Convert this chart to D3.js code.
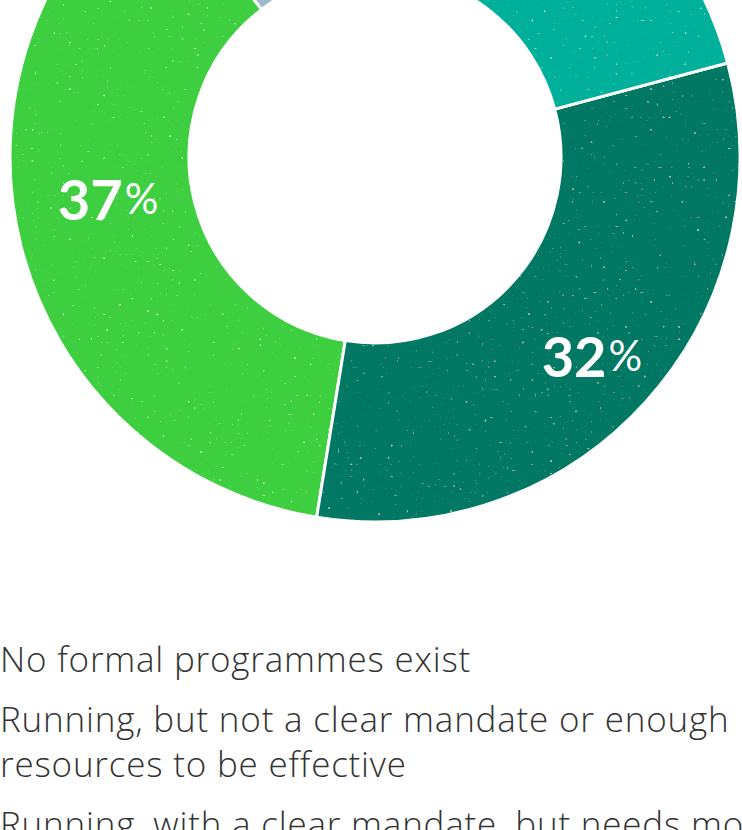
<!DOCTYPE html>
<html>
<head>
<meta charset="utf-8">
<script src="https://cdn.jsdelivr.net/npm/d3@7"></script>
<style>
  html, body { margin: 0; padding: 0; background: #ffffff; overflow: hidden; }
  svg { display: block; }
</style>
</head>
<body>
<div id="chart"></div>
<script>
// ---- data (legend order) ----
const categories = [
  "No formal programmes exist",
  "Running, but not a clear mandate or enough resources to be effective",
  "Running, with a clear mandate, but needs more resources",
  "Running, with a clear mandate and enough resources"
];
const values = [10, 37, 31.7, 21.3];
const colors = ["#9dbccb", "#3ecf3f", "#007864", "#00b09b"];
const labelled = [false, true, true, false];

// ---- layout ----
const W = 742, H = 830;
const cx = 375, cy = 157;
const rOuter = 365, rInner = 186;
const deg = Math.PI / 180;

const svg = d3.select("#chart").append("svg")
  .attr("width", W).attr("height", H);

// sparse speckle texture filter
const defs = svg.append("defs");
const f = defs.append("filter").attr("id", "speckle")
  .attr("x", 0).attr("y", 0).attr("width", 1).attr("height", 1);
f.append("feTurbulence").attr("type", "fractalNoise")
  .attr("baseFrequency", 0.32).attr("numOctaves", 1).attr("seed", 11).attr("result", "noise");
f.append("feColorMatrix").attr("in", "noise").attr("type", "matrix")
  .attr("values", "0 0 0 0 1  0 0 0 0 1  0 0 0 0 1  14 0 0 0 -10.1")
  .attr("result", "dots");
f.append("feComposite").attr("in", "dots").attr("in2", "SourceGraphic")
  .attr("operator", "in").attr("result", "dotsIn");
f.append("feComponentTransfer").attr("in", "dotsIn").attr("result", "dotsSoft")
  .append("feFuncA").attr("type", "linear").attr("slope", 0.35);
const fm = f.append("feMerge");
fm.append("feMergeNode").attr("in", "SourceGraphic");
fm.append("feMergeNode").attr("in", "dotsSoft");

const start = -1.6 * deg;
const pie = d3.pie().sort(null).value(d => d)
  .startAngle(start).endAngle(start - 2 * Math.PI);
const arcs = pie(values);

const arc = d3.arc().innerRadius(rInner).outerRadius(rOuter);

const g = svg.append("g").attr("transform", `translate(${cx},${cy})`);
g.append("g").attr("filter", "url(#speckle)")
  .selectAll("path").data(arcs).join("path")
  .attr("d", arc)
  .attr("fill", (d, i) => colors[i])
  .attr("stroke", "#ffffff")
  .attr("stroke-width", 3)
  .attr("stroke-linejoin", "miter");

// percentage labels
const labelTweak = { 1: { shift: 5.5, r: 270 }, 2: { shift: 0.3, r: 294 } };
const fmt = d3.format(".0f");
arcs.forEach((d, i) => {
  if (!labelled[i]) return;
  const mid = (d.startAngle + d.endAngle) / 2;
  const t = labelTweak[i] || { shift: 0, r: 285 };
  const a = mid + t.shift * deg;
  const x = t.r * Math.sin(a), y = -t.r * Math.cos(a);
  const txt = g.append("text")
    .attr("x", x).attr("y", y)
    .attr("text-anchor", "middle")
    .attr("dominant-baseline", "central")
    .attr("fill", "#ffffff")
    .style("font-family", "Lato, 'Open Sans', sans-serif")
    .style("font-weight", 700);
  txt.append("tspan").style("font-size", "56px").text(fmt(values[i]));
  txt.append("tspan").style("font-size", "42px").style("font-weight", 400).attr("dx", 2).text("%");
});

// legend (text only)
const legendX = 0;
const firstBaseline = 672;
const lineH = 45, itemGap = 15;
const wrapWidth = 800;
let yb = firstBaseline;
categories.forEach((c, i) => {
  const t = svg.append("text")
    .attr("x", legendX).attr("y", yb)
    .attr("fill", "#333333")
    .style("font-family", "'Open Sans', Roboto, sans-serif")
    .style("font-weight", 300)
    .style("font-size", "35px")
    .style("letter-spacing", "0.8px");
  const words = c.split(" ");
  let line = [];
  let tspan = t.append("tspan").attr("x", legendX).attr("y", yb);
  let lines = 1;
  words.forEach(w => {
    line.push(w);
    tspan.text(line.join(" "));
    if (tspan.node().getComputedTextLength() > wrapWidth && line.length > 1) {
      line.pop();
      tspan.text(line.join(" "));
      line = [w];
      lines++;
      tspan = t.append("tspan").attr("x", legendX).attr("y", yb + (lines - 1) * lineH).text(w);
    }
  });
  yb += lines * lineH + itemGap;
});
</script>
</body>
</html>
